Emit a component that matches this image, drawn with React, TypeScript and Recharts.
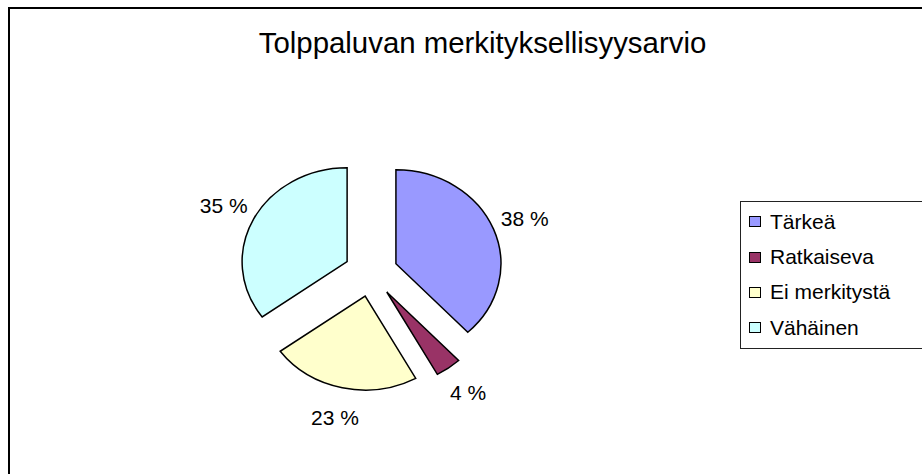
import { PieChart, Pie, Cell, Sector, Legend } from "recharts"

const title = "Tolppaluvan merkityksellisyysarvio"
const categories = ["Tärkeä", "Ratkaiseva", "Ei merkitystä", "Vähäinen"]
const shares = [38, 4, 23, 35]

const COLORS = ["#9999ff", "#993366", "#ffffcc", "#ccffff"]
const FONT = '"Liberation Sans", Arial, sans-serif'
const RADIAN = Math.PI / 180
const SX = 1.117 // the old pie is a bit wider than tall
const EXPLODE = 24
const LABEL_DIST = 30

const data = categories.map((name, i) => ({ name, value: shares[i] }))

// every slice pulled out along its bisector, then stretched sideways
const renderSlice = (props: any) => {
    const { cx, cy, outerRadius, startAngle, endAngle, fill } = props
    const mid = ((startAngle + endAngle) / 2) * RADIAN
    const ox = cx + EXPLODE * Math.cos(mid)
    const oy = cy - EXPLODE * Math.sin(mid)
    return (
        <g transform={`translate(${cx} ${cy}) scale(${SX} 1) translate(${-cx} ${-cy})`}>
            <Sector
                cx={ox}
                cy={oy}
                innerRadius={0}
                outerRadius={outerRadius}
                startAngle={startAngle}
                endAngle={endAngle}
                fill={fill}
                stroke="#000"
                strokeWidth={1.5}
                vectorEffect="non-scaling-stroke"
            />
        </g>
    )
}

const renderLabel = (props: any) => {
    const { cx, cy, outerRadius, startAngle, endAngle, value } = props
    const mid = ((startAngle + endAngle) / 2) * RADIAN
    const r = outerRadius + EXPLODE + LABEL_DIST
    const x = cx + SX * r * Math.cos(mid)
    const y = cy - r * Math.sin(mid)
    return (
        <text x={x} y={y} textAnchor="middle" dominantBaseline="central" fontSize={21} fontFamily={FONT} fill="#000">
            {`${value} %`}
        </text>
    )
}

const LegendBox = () => (
    <div style={{ border: "1px solid #222", background: "#fff", padding: "2px 0 2px 8px", fontFamily: FONT, fontSize: 21, color: "#000" }}>
        {categories.map((c, i) => (
            <div key={c} style={{ height: 35.4, display: "flex", alignItems: "center" }}>
                <span style={{ display: "inline-block", width: 12, height: 11, boxSizing: "border-box", border: "1.5px solid #000", background: COLORS[i], marginRight: 9 }} />
                <span>{c}</span>
            </div>
        ))}
    </div>
)

export default function App() {
    return (
        <div style={{ position: "absolute", left: 0, top: 0, width: 922, height: 474, overflow: "hidden", background: "#fff" }}>
            <div style={{ position: "absolute", left: 8, top: 7, width: 1000, height: 600, borderTop: "2px solid #000", borderLeft: "2.5px solid #000" }} />
            <div style={{ position: "absolute", left: 0, top: 27.5, width: 965, textAlign: "center", fontFamily: FONT, fontSize: 29.4, lineHeight: "29px", color: "#000" }}>
                {title}
            </div>
            <div style={{ position: "absolute", left: 0, top: 0 }}>
                <PieChart width={922} height={474} margin={{ top: 0, right: 0, bottom: 0, left: 0 }}>
                    <Pie
                        data={data}
                        dataKey="value"
                        nameKey="name"
                        cx={371}
                        cy={272.6}
                        outerRadius={94}
                        startAngle={90}
                        endAngle={-270}
                        shape={renderSlice}
                        label={renderLabel}
                        labelLine={false}
                        isAnimationActive={false}
                    >
                        {data.map((d, i) => (
                            <Cell key={d.name} fill={COLORS[i]} />
                        ))}
                    </Pie>
                    <Legend
                        layout="vertical"
                        align="right"
                        verticalAlign="middle"
                        wrapperStyle={{ left: 740, top: 201, width: 200 }}
                        content={() => <LegendBox />}
                    />
                </PieChart>
            </div>
        </div>
    )
}
